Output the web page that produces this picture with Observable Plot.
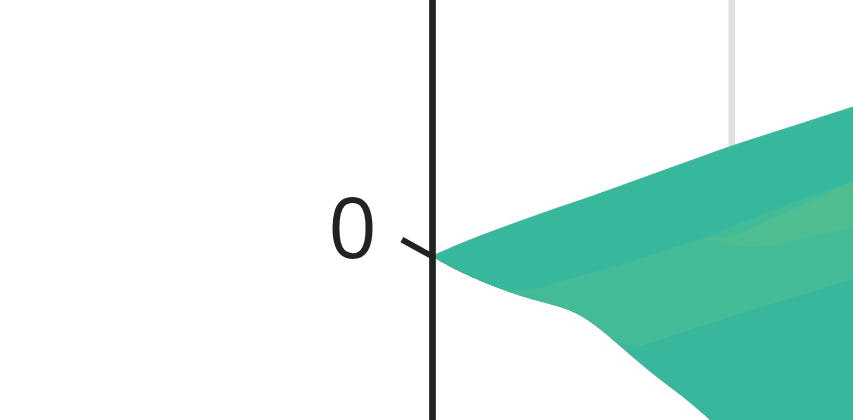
<!DOCTYPE html>
<html>
<head>
<meta charset="utf-8">
<script src="https://cdn.jsdelivr.net/npm/d3@7"></script>
<script src="https://cdn.jsdelivr.net/npm/@observablehq/plot@0.6"></script>
<style>
  html, body { margin: 0; padding: 0; background: #fff; }
  #chart svg { display: block; }
</style>
</head>
<body>
<div id="chart"></div>
<script>
// x positions of the samples
const xs = [0, 2.5, 5, 7.5, 10, 12.5, 15, 17.5, 20, 22.5, 25, 27.5, 30, 32.5, 35, 37.5, 40, 42.5, 45];
// outer edges of the stream
const edgeTop    = [0, 1.1, 2.1, 3.0, 3.9, 4.8, 5.6, 6.5, 7.4, 8.3, 9.2, 10.1, 11.0, 11.8, 12.6, 13.4, 14.2, 15.0, 15.8];
const edgeBottom = [0, -1.4, -2.5, -3.5, -4.3, -4.9, -5.8, -7.8, -10.0, -12.1, -13.9, -16.0, -18.4, -20.9, -23.4, -25.9, -28.4, -30.9, -33.4];
// inner layer boundaries (upper edge of each layer, bottom to top)
const topA  = [0, -1.4, -2.5, -3.5, -4.3, -4.9, -5.8, -7.8, -9.4, -8.4, -7.6, -6.8, -6.0, -5.2, -4.4, -3.7, -2.9, -2.1, -1.3];
const topB1 = [0, -1.4, -2.5, -3.5, -3.4, -2.6, -1.9, -1.2, -0.5, 0.3, 1.1, 1.9, 1.3, 0.9, 1.3, 1.9, 2.4, 3.0, 3.6];
const topD  = [0, -1.4, -2.5, -3.5, -3.4, -2.6, -1.9, -1.2, -0.5, 0.3, 1.1, 1.9, 1.7, 3.0, 4.1, 5.2, 6.5, 7.6, 8.8];
const topB2 = [0, -1.4, -2.5, -3.5, -3.4, -2.6, -1.9, -1.2, -0.5, 0.3, 1.1, 1.9, 2.9, 3.9, 4.9, 5.8, 6.7, 7.6, 8.8];

const layerColors = ["#38b79c", "#43bb97", "#4ebd8f", "#43bb97", "#37b89d"];
const yTicks = [0];
const yTickLabels = ["0"];
const xGrid = [30];

const bounds = [edgeBottom, topA, topB1, topD, topB2, edgeTop];
const layers = layerColors.map((color, k) => ({
  color,
  rows: xs.map((x, i) => ({x, lo: bounds[k][i], hi: bounds[k + 1][i]}))
}));

const chart = Plot.plot({
  width: 853,
  height: 420,
  marginLeft: 432,
  marginRight: 0,
  marginTop: 0,
  marginBottom: 0,
  style: {background: "#fff"},
  x: {domain: [0, 42.2], axis: null},
  y: {domain: [-16.4, 25.6], axis: null},
  marks: [
    Plot.ruleX(xGrid, {stroke: "#e0e0e0", strokeWidth: 6.5}),
    ...layers.map(l => Plot.areaY(l.rows, {
      x: "x", y1: "lo", y2: "hi",
      fill: l.color, stroke: l.color, strokeWidth: 0.8,
      curve: "basis"
    })),
    Plot.vector(yTicks, {
      x: 0, y: d => d, length: 35, rotate: -61, anchor: "start", r: 0,
      stroke: "#222", strokeWidth: 6, strokeLinecap: "butt"
    }),
    Plot.ruleX([0], {stroke: "#222", strokeWidth: 6.7}),
    Plot.text(yTicks, {
      x: 0, y: d => d, text: (d, i) => yTickLabels[i],
      dx: -80, dy: 1, textAnchor: "middle", lineAnchor: "bottom",
      fontSize: 85, fontFamily: "Open Sans", fill: "#222"
    })
  ]
});
document.getElementById("chart").append(chart);
</script>
</body>
</html>
